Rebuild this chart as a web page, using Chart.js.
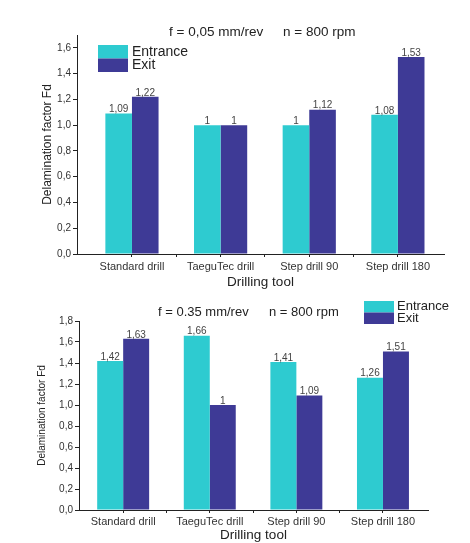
<!DOCTYPE html>
<html>
<head>
<meta charset="utf-8">
<script src="https://cdn.jsdelivr.net/npm/chart.js@4/dist/chart.umd.min.js"></script>
<style>
    body { margin: 0; background: #fff; width: 470px; height: 543px; overflow: hidden; position: relative; }
    canvas { position: absolute; left: 0; }
    #chartTop { top: 0; }
    #chartBottom { top: 290px; }
</style>
</head>
<body>
<canvas id="chartTop" width="470" height="290"></canvas>
<canvas id="chartBottom" width="470" height="253"></canvas>
<script>
// 数据
const tools = ['Standard drill', 'TaeguTec drill', 'Step drill 90', 'Step drill 180'];
const seriesNames = ['Entrance', 'Exit'];
const entranceF005 = [1.09, 1, 1, 1.08];
const exitF005 = [1.22, 1, 1.12, 1.53];
const entranceF035 = [1.42, 1.66, 1.41, 1.26];
const exitF035 = [1.63, 1, 1.09, 1.51];
const yTicksTop = [0, 0.2, 0.4, 0.6, 0.8, 1.0, 1.2, 1.4, 1.6];
const yTicksBottom = [0, 0.2, 0.4, 0.6, 0.8, 1.0, 1.2, 1.4, 1.6, 1.8];
const titleTop = ['f = 0,05 mm/rev', 'n = 800 rpm'];
const titleBottom = ['f = 0.35 mm/rev', 'n = 800 rpm'];

const colorEntrance = '#2ECBD0';
const colorExit = '#3E3A96';
const textColor = '#333';
const FONT = '"Liberation Sans", Arial, sans-serif';

// 逗号小数
function fmtTick(v) {
    return v.toFixed(1).replace('.', ',');
}
function fmtValue(v) {
    return String(v).replace('.', ',');
}

// 标题、图例、数值标签
const extraTextPlugin = {
    id: 'extraText',
    afterDatasetsDraw(chart, args, opts) {
        const ctx = chart.ctx;
        ctx.save();
        // 数值标签
        ctx.fillStyle = '#444';
        ctx.font = opts.labelFont + 'px ' + FONT;
        ctx.textAlign = 'center';
        ctx.textBaseline = 'bottom';
        chart.data.datasets.forEach((ds, di) => {
            const meta = chart.getDatasetMeta(di);
            meta.data.forEach((bar, i) => {
                ctx.fillText(fmtValue(ds.data[i].y), bar.x, bar.y + 1);
            });
        });
        // 标题
        ctx.fillStyle = '#222';
        ctx.textAlign = 'left';
        ctx.textBaseline = 'middle';
        ctx.font = opts.titleFont + 'px ' + FONT;
        opts.title.forEach((t, i) => {
            ctx.fillText(t, opts.titleX[i], opts.titleY);
        });
        // 图例
        const lg = opts.legend;
        ctx.font = lg.font + 'px ' + FONT;
        chart.data.datasets.forEach((ds, di) => {
            const y = lg.y + di * lg.boxH;
            ctx.fillStyle = ds.backgroundColor;
            ctx.fillRect(lg.x, y, lg.boxW, lg.boxH);
            ctx.fillStyle = '#222';
            ctx.fillText(ds.label, lg.x + lg.boxW + lg.gap, y + lg.boxH / 2);
        });
        ctx.restore();
    }
};

function makeChart(id, entrance, exit, yTicks, cfg) {
    const ctx = document.getElementById(id).getContext('2d');
    return new Chart(ctx, {
        type: 'bar',
        data: {
            datasets: [
                {
                    label: seriesNames[0],
                    data: entrance.map((v, i) => ({ x: i, y: v })),
                    backgroundColor: colorEntrance,
                    borderWidth: 0
                },
                {
                    label: seriesNames[1],
                    data: exit.map((v, i) => ({ x: i, y: v })),
                    backgroundColor: colorExit,
                    borderWidth: 0
                }
            ]
        },
        options: {
            responsive: false,
            animation: false,
            devicePixelRatio: 1,
            // 刻度间距是半个类别，所以用 1.2
            categoryPercentage: 1.2,
            barPercentage: 1.0,
            layout: { padding: cfg.padding },
            plugins: {
                legend: { display: false },
                tooltip: { enabled: false },
                extraText: cfg.text
            },
            scales: {
                x: {
                    type: 'linear',
                    offset: false,
                    min: cfg.xMin,
                    max: cfg.xMax,
                    afterBuildTicks: (scale) => {
                        const ticks = [];
                        tools.forEach((t, i) => {
                            ticks.push({ value: i });
                            if (i < tools.length - 1) ticks.push({ value: i + 0.5 });
                        });
                        scale.ticks = ticks;
                    },
                    afterFit: (scale) => { scale.height = cfg.xAxisHeight; },
                    ticks: {
                        autoSkip: false,
                        maxRotation: 0,
                        padding: cfg.xTickPadding,
                        color: textColor,
                        font: { family: FONT, size: 11 },
                        callback: (value) => Number.isInteger(value) ? tools[value] : ''
                    },
                    grid: {
                        drawOnChartArea: false,
                        offset: false,
                        tickLength: 3,
                        tickColor: '#222'
                    },
                    border: { color: '#222', width: 1 },
                    title: {
                        display: true,
                        text: 'Drilling tool',
                        color: '#222',
                        padding: { top: 0, bottom: 0 },
                        font: { family: FONT, size: 13.5 }
                    }
                },
                y: {
                    min: 0,
                    max: cfg.yMax,
                    afterBuildTicks: (scale) => {
                        const ticks = [];
                        yTicks.forEach((v, i) => {
                            ticks.push({ value: v });
                            if (v + 0.1 <= cfg.yMax + 1e-9) ticks.push({ value: Math.round((v + 0.1) * 10) / 10 });
                        });
                        scale.ticks = ticks;
                    },
                    afterFit: (scale) => { scale.width = cfg.yAxisWidth; },
                    ticks: {
                        padding: 2,
                        color: textColor,
                        font: { family: FONT, size: 10 },
                        callback: (value) => yTicks.some(t => Math.abs(t - value) < 1e-6) ? fmtTick(value) : ''
                    },
                    grid: {
                        drawOnChartArea: false,
                        tickLength: 4,
                        tickColor: '#222'
                    },
                    border: { color: '#222', width: 1 },
                    title: {
                        display: true,
                        text: 'Delamination factor Fd',
                        color: '#222',
                        padding: { top: 0, bottom: 0 },
                        font: { family: FONT, size: cfg.yTitleSize }
                    }
                }
            }
        },
        plugins: [extraTextPlugin]
    });
}

// 上图 f = 0,05
makeChart('chartTop', entranceF005, exitF005, yTicksTop, {
    xMin: -0.62, xMax: 3.52, yMax: 1.7,
    padding: { left: 40, right: 26, top: 35, bottom: 0 },
    xAxisHeight: 36, yAxisWidth: 37, xTickPadding: 3, yTitleSize: 12,
    text: {
        labelFont: 10,
        titleFont: 13.5, title: titleTop, titleX: [169, 283], titleY: 32,
        legend: { x: 98, y: 45, boxW: 30, boxH: 13.5, gap: 4, font: 14 }
    }
});

// 下图 f = 0.35
makeChart('chartBottom', entranceF035, exitF035, yTicksBottom, {
    xMin: -0.51, xMax: 3.52, yMax: 1.8,
    padding: { left: 36, right: 42, top: 31, bottom: 0 },
    xAxisHeight: 33, yAxisWidth: 43, xTickPadding: 2, yTitleSize: 10,
    text: {
        labelFont: 10,
        titleFont: 13, title: titleBottom, titleX: [158, 269], titleY: 22,
        legend: { x: 364, y: 11, boxW: 30, boxH: 11.5, gap: 3, font: 13 }
    }
});
</script>
</body>
</html>
